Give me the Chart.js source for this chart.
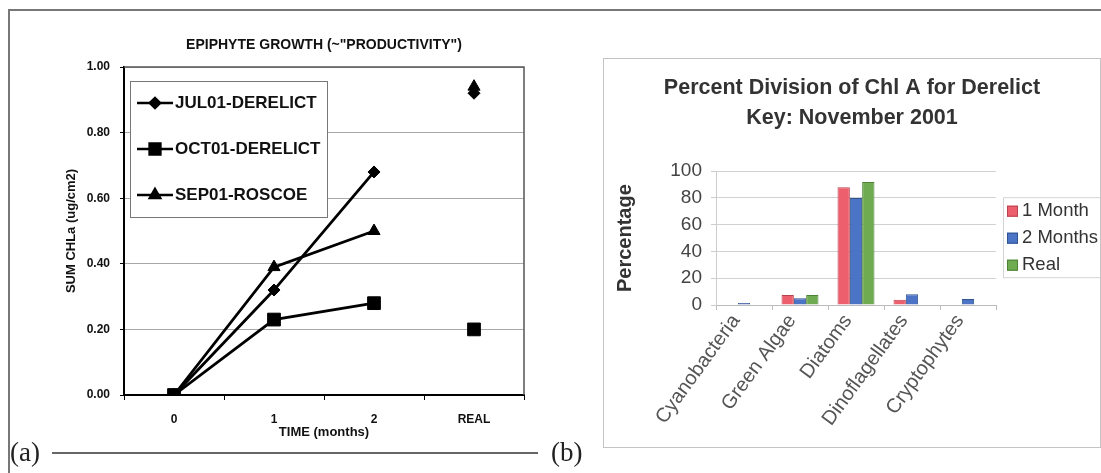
<!DOCTYPE html>
<html>
<head>
<meta charset="utf-8">
<script src="https://cdn.jsdelivr.net/npm/chart.js@4.4.1/dist/chart.umd.min.js"></script>
<style>
  html, body { margin: 0; padding: 0; background: #fff; }
  body { width: 1101px; height: 473px; position: relative; overflow: hidden; font-family: Arial, "Liberation Sans", sans-serif; }
  #frameTop { position: absolute; left: 8px; top: 9px; width: 1093px; height: 0; border-top: 2px solid #777; }
  #frameLeft { position: absolute; left: 8px; top: 9px; width: 0; height: 464px; border-left: 2px solid #777; }
  #wrapA { position: absolute; left: 0; top: 0; width: 560px; height: 473px; }
  #wrapB { position: absolute; left: 603px; top: 58px; width: 498px; height: 390px; box-sizing: border-box; border: 1px solid #c4c4c4; }
  .tag { position: absolute; font-family: "Liberation Serif", "DejaVu Serif", serif; font-size: 27px; color: #222; line-height: 1; }
  #rule { position: absolute; left: 52px; top: 452px; width: 486px; height: 0; border-top: 2px solid #666; }
</style>
</head>
<body>
<div id="frameTop"></div>
<div id="frameLeft"></div>
<div id="wrapA"><canvas id="chartA" width="560" height="473"></canvas></div>
<div id="wrapB"><canvas id="chartB" width="496" height="388"></canvas></div>
<div class="tag" style="left:10px; top:439px;">(a)</div>
<div id="rule"></div>
<div class="tag" style="left:551px; top:439px;">(b)</div>

<script>
// (a) 着生藻の成長
const timeLabels = ['0', '1', '2', 'REAL'];
const jul01Derelict = [0, 0.32, 0.68, 0.92];
const oct01Derelict = [0, 0.23, 0.28, 0.20];
const sep01Roscoe = [0, 0.39, 0.50, 0.94];

// (b) Chl A の割合
const groups = ['Cyanobacteria', 'Green Algae', 'Diatoms', 'Dinoflagellates', 'Cryptophytes'];
const oneMonth = [0, 7.5, 88, 4, 0];
const twoMonths = [1.5, 5, 80, 8, 4.5];
const realPct = [0, 7.5, 92, 0, 0];

// REAL の点は線で結ばない
const noLineToReal = {
    borderColor: ctx => ctx.p1DataIndex === 3 ? 'rgba(0,0,0,0)' : undefined
};

// プロット枠
const plotFrame = {
    id: 'plotFrame',
    beforeDatasetsDraw(chart) {
        const { ctx, chartArea } = chart;
        ctx.save();
        ctx.strokeStyle = '#555';
        ctx.lineWidth = 1.5;
        ctx.beginPath();
        ctx.moveTo(chartArea.left, chartArea.top);
        ctx.lineTo(chartArea.right, chartArea.top);
        ctx.lineTo(chartArea.right, chartArea.bottom);
        ctx.stroke();
        ctx.restore();
    }
};

// 枠付き凡例（左）
const boxLegendA = {
    id: 'boxLegendA',
    afterDraw(chart) {
        const { ctx, chartArea } = chart;
        const x0 = chartArea.left + 6;
        const y0 = chartArea.top + 14;
        ctx.save();
        ctx.fillStyle = '#fff';
        ctx.fillRect(x0, y0, 197, 136);
        ctx.strokeStyle = '#777';
        ctx.lineWidth = 1;
        ctx.strokeRect(x0 + 0.5, y0 + 0.5, 197, 136);
        chart.data.datasets.forEach((ds, i) => {
            const y = y0 + 22 + i * 46;
            ctx.strokeStyle = '#000';
            ctx.lineWidth = 2.5;
            ctx.beginPath();
            ctx.moveTo(x0 + 7, y);
            ctx.lineTo(x0 + 43, y);
            ctx.stroke();
            ctx.fillStyle = '#000';
            Chart.helpers.drawPoint(ctx, {
                pointStyle: ds.pointStyle,
                radius: ds.pointRadius * 0.85,
                rotation: 0,
                borderWidth: 1
            }, x0 + 25, y);
            ctx.fillStyle = '#111';
            ctx.font = 'bold 17px Arial, "Liberation Sans", sans-serif';
            ctx.textBaseline = 'middle';
            ctx.textAlign = 'left';
            ctx.fillText(ds.label, x0 + 45, y);
        });
        ctx.restore();
    }
};

// 枠付き凡例（右）: 右側にレイアウト用の箱を確保して描く
const boxLegendB = {
    id: 'boxLegendB',
    beforeInit(chart) {
        const box = {
            position: 'right',
            weight: 1000,
            fullSize: false,
            options: {},
            isHorizontal: () => false,
            update(maxWidth, maxHeight) {
                this.width = 104;
                this.height = maxHeight;
            },
            draw() {
                const { ctx, chartArea } = chart;
                const x0 = chartArea.right + 7;
                const y0 = chartArea.top + 26;
                ctx.save();
                ctx.fillStyle = '#fff';
                ctx.fillRect(x0, y0, 110, 80);
                ctx.strokeStyle = '#d4d4d4';
                ctx.lineWidth = 1;
                ctx.strokeRect(x0 + 0.5, y0 + 0.5, 110, 80);
                chart.data.datasets.forEach((ds, i) => {
                    const y = y0 + 14 + i * 27;
                    ctx.fillStyle = ds.backgroundColor;
                    ctx.fillRect(x0 + 4, y - 5.5, 11, 11);
                    ctx.strokeStyle = ds.borderColor;
                    ctx.strokeRect(x0 + 4.5, y - 5, 10, 10);
                    ctx.fillStyle = '#333';
                    ctx.font = '18.5px Arial, "Liberation Sans", sans-serif';
                    ctx.textBaseline = 'middle';
                    ctx.textAlign = 'left';
                    ctx.fillText(ds.label, x0 + 19, y);
                });
                ctx.restore();
            }
        };
        Chart.layouts.addBox(chart, box);
    }
};

const boldFont = (size) => ({ family: 'Arial, "Liberation Sans", sans-serif', size: size, weight: 'bold' });
const plainFont = (size) => ({ family: 'Arial, "Liberation Sans", sans-serif', size: size });

new Chart(document.getElementById('chartA'), {
    type: 'line',
    data: {
        labels: timeLabels,
        datasets: [
            { label: 'JUL01-DERELICT', data: jul01Derelict, pointStyle: 'rectRot', pointRadius: 6 },
            { label: 'OCT01-DERELICT', data: oct01Derelict, pointStyle: 'rect', pointRadius: 9 },
            { label: 'SEP01-ROSCOE', data: sep01Roscoe, pointStyle: 'triangle', pointRadius: 7 }
        ].map(ds => Object.assign(ds, {
            borderColor: '#000',
            backgroundColor: '#000',
            pointBackgroundColor: '#000',
            pointBorderColor: '#000',
            pointBorderWidth: 1,
            borderWidth: 2.8,
            tension: 0,
            segment: noLineToReal
        }))
    },
    options: {
        responsive: false,
        animation: false,
        layout: { padding: { left: 62, right: 36, top: 0, bottom: 28 } },
        plugins: {
            legend: { display: false },
            tooltip: { enabled: false },
            title: {
                display: true,
                fullSize: false,
                text: 'EPIPHYTE GROWTH (~"PRODUCTIVITY")',
                color: '#111',
                font: boldFont(14),
                padding: { top: 36.6, bottom: 13.6 }
            }
        },
        scales: {
            x: {
                offset: true,
                afterFit: s => { s.height = 50; },
                grid: { offset: true, drawOnChartArea: false, color: '#000', tickLength: 5 },
                border: { color: '#000', width: 2 },
                ticks: { color: '#111', font: boldFont(12), padding: 12 },
                title: { display: true, text: 'TIME (months)', color: '#111', font: boldFont(13), padding: { top: 0, bottom: 5 } }
            },
            y: {
                min: 0,
                max: 1,
                afterFit: s => { s.width = 62; },
                grid: {
                    color: c => c.tick.value === 0 ? 'rgba(0,0,0,0)' : '#a8a8a8',
                    tickColor: '#000',
                    tickLength: 4
                },
                border: { color: '#000', width: 2 },
                ticks: { stepSize: 0.2, color: '#111', font: boldFont(12), padding: 10, callback: v => v.toFixed(2) },
                title: { display: true, text: 'SUM CHLa (ug/cm2)', color: '#111', font: boldFont(13), padding: { top: 2, bottom: 0 } }
            }
        }
    },
    plugins: [plotFrame, boxLegendA]
});

new Chart(document.getElementById('chartB'), {
    type: 'bar',
    data: {
        labels: groups,
        datasets: [
            { label: '1 Month', data: oneMonth, backgroundColor: '#ee5f6d', borderColor: '#b8424f' },
            { label: '2 Months', data: twoMonths, backgroundColor: '#4b74c6', borderColor: '#30528f' },
            { label: 'Real', data: realPct, backgroundColor: '#6fab50', borderColor: '#4c8335' }
        ].map(ds => Object.assign(ds, { borderWidth: 1, categoryPercentage: 0.66, barPercentage: 1 }))
    },
    options: {
        responsive: false,
        animation: false,
        layout: { padding: { left: 0, right: 0, top: 0, bottom: 0 } },
        plugins: {
            legend: { display: false },
            tooltip: { enabled: false },
            title: {
                display: true,
                text: ['Percent Division of Chl A for Derelict', 'Key: November 2001'],
                color: '#333',
                font: { family: 'Arial, "Liberation Sans", sans-serif', size: 21.5, weight: 'bold', lineHeight: 1.4 },
                padding: { top: 14, bottom: 38 }
            }
        },
        scales: {
            x: {
                afterFit: s => { s.height = 142; },
                grid: { offset: true, drawOnChartArea: false, color: '#bbb', tickLength: 5 },
                border: { color: '#bbb', width: 1 },
                ticks: { color: '#555', font: plainFont(20), minRotation: 54, maxRotation: 54, padding: 0, labelOffset: -8 }
            },
            y: {
                min: 0,
                max: 100,
                afterFit: s => { s.width = 112; },
                grid: { color: '#d2d2d2', tickColor: '#ccc', tickLength: 5 },
                border: { color: '#ccc', width: 1 },
                ticks: { stepSize: 20, color: '#444', font: plainFont(19), padding: 9 },
                title: { display: true, text: 'Percentage', color: '#333', font: boldFont(20), padding: { top: 9.5, bottom: 0 } }
            }
        }
    },
    plugins: [boxLegendB]
});
</script>
</body>
</html>
